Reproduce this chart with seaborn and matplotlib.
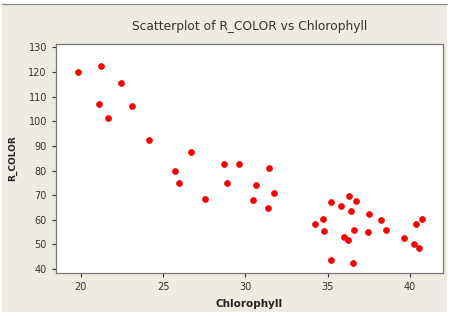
import matplotlib
matplotlib.use("Agg")
import matplotlib.pyplot as plt
import seaborn as sns
import pandas as pd
from matplotlib.patches import Rectangle

chlorophyll = [19.8, 21.2, 22.45, 21.1, 23.1, 21.66, 24.13, 26.69,
               25.71, 25.98, 27.52, 28.67, 29.62, 28.85, 31.45, 30.64,
               31.73, 30.43, 31.35, 34.24, 34.69, 34.79, 35.22, 35.22,
               35.83, 36.31, 36.39, 36.72, 36.02, 36.22, 36.59, 36.51,
               37.52, 37.46, 38.21, 38.52, 39.65, 40.34, 40.71, 40.22, 40.55]
r_color = [119.9, 122.6, 115.7, 107.2, 106.2, 101.3, 92.5, 87.6,
           79.7, 75.0, 68.5, 82.8, 82.5, 75.0, 81.0, 74.2,
           70.9, 68.0, 64.9, 58.3, 60.2, 55.4, 67.2, 43.6,
           65.6, 69.8, 63.6, 67.6, 53.1, 51.7, 55.8, 42.5,
           62.4, 55.0, 59.9, 55.8, 52.7, 58.3, 60.2, 50.3, 48.6]
x_ticks = [20, 25, 30, 35, 40]
y_ticks = [40, 50, 60, 70, 80, 90, 100, 110, 120, 130]

df = pd.DataFrame({"Chlorophyll": chlorophyll, "R_COLOR": r_color})

sns.set_style("ticks")
plt.rcParams['font.family'] = ['DejaVu Sans']

bg = "#EEEBE3"
fig = plt.figure(figsize=(4.51, 3.16), dpi=100, facecolor="white")

# beige window area of the original screenshot, gray line on top
fig.patches.append(Rectangle((2 / 451, 4 / 316), 445 / 451, 308 / 316,
                             transform=fig.transFigure, facecolor=bg,
                             edgecolor="none", zorder=-10))
fig.lines.append(plt.Line2D([2 / 451, 447 / 451], [312 / 316, 312 / 316],
                            transform=fig.transFigure, color="#8A8A8A",
                            linewidth=0.9, zorder=-5))

ax = fig.add_axes([0.124, 0.137, 0.858, 0.724])

sns.scatterplot(data=df, x="Chlorophyll", y="R_COLOR", ax=ax,
                color="#FF0000", edgecolor="#E80000", s=18, linewidth=0.5)

ax.set_xlim(18.48, 42.0)
ax.set_ylim(38.5, 131.4)
ax.set_xticks(x_ticks)
ax.set_yticks(y_ticks)
ax.tick_params(labelsize=7, colors="#333333", length=3, width=0.8)
for s in ax.spines.values():
    s.set_color("#777777")
    s.set_linewidth(0.9)
    s.set_visible(True)

ax.set_title("Scatterplot of R_COLOR vs Chlorophyll", fontsize=8.8, color="#333333", pad=10)
ax.set_xlabel("Chlorophyll", fontsize=7.5, fontweight="bold", color="#222222", labelpad=5)
ax.set_ylabel("R_COLOR", fontsize=6.5, fontweight="bold", color="#222222", labelpad=8)

fig.savefig("out.png", dpi=100, facecolor="white")
